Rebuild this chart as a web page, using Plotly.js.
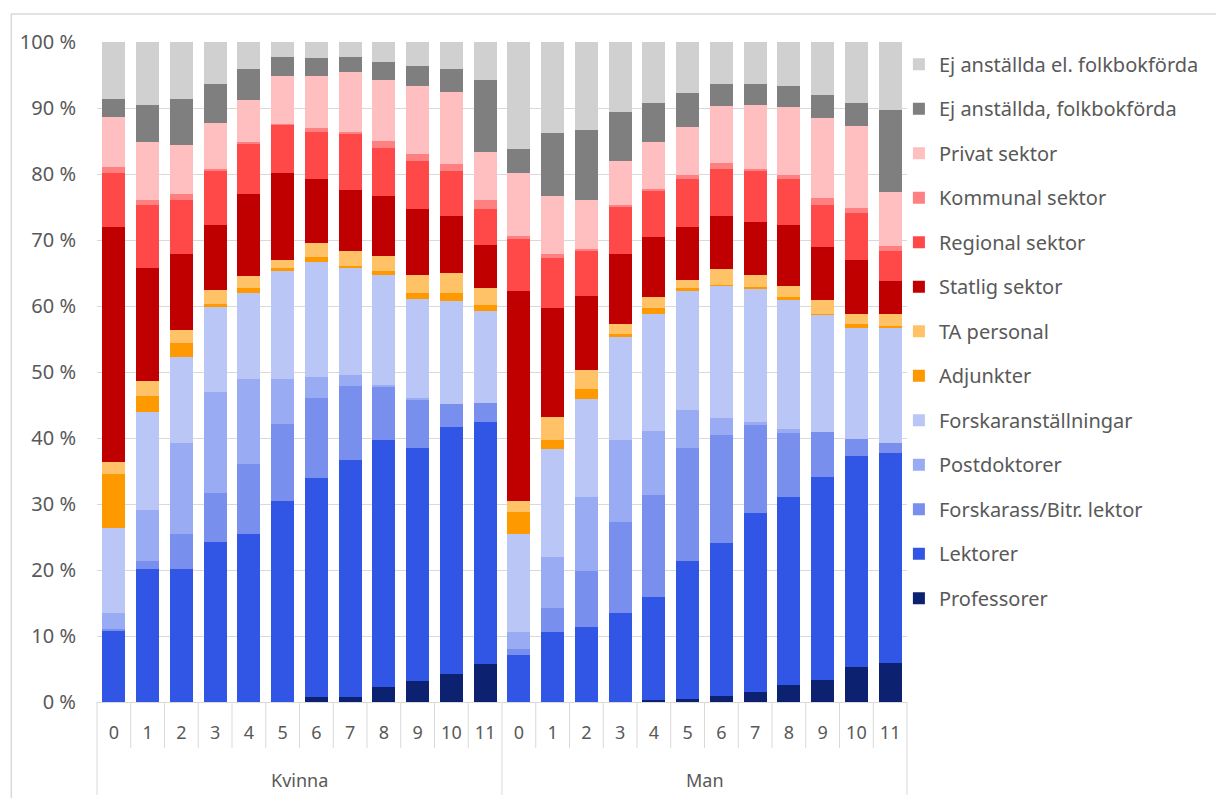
<!DOCTYPE html>
<html>
<head>
<meta charset="utf-8">
<script src="https://cdn.plot.ly/plotly-3.0.1.min.js"></script>
<style>html,body{margin:0;padding:0;background:#fff;}#chart{width:1216px;height:798px;}</style>
</head>
<body>
<div id="chart"></div>
<script>
const groupNames = ["Kvinna","Man"];
const groups = ["Kvinna","Kvinna","Kvinna","Kvinna","Kvinna","Kvinna","Kvinna","Kvinna","Kvinna","Kvinna","Kvinna","Kvinna",
                "Man","Man","Man","Man","Man","Man","Man","Man","Man","Man","Man","Man"];
const years = ["0","1","2","3","4","5","6","7","8","9","10","11","0","1","2","3","4","5","6","7","8","9","10","11"];
const yTickVals = [0,10,20,30,40,50,60,70,80,90,100];

const professorer      = [0,0,0,0,0,0,0.7,0.7,2.2,3.2,4.2,5.8, 0,0,0,0,0.3,0.5,0.9,1.5,2.6,3.4,5.3,5.9];
const lektorer         = [10.7,20.1,20.1,24.2,25.4,30.4,33.2,36.0,37.5,35.3,37.5,36.6, 7.1,10.6,11.4,13.5,15.6,20.8,23.2,27.1,28.5,30.7,31.9,31.9];
const forskarass       = [0.3,1.2,5.3,7.4,10.7,11.7,12.2,11.2,8.1,7.3,3.5,2.9, 0.9,3.7,8.5,13.8,15.5,17.2,16.4,13.3,9.6,6.8,2.7,1.4];
const postdoktorer     = [2.5,7.8,13.8,15.3,12.8,6.8,3.1,1.7,0.2,0.3,0,0, 2.6,7.6,11.1,12.4,9.6,5.7,2.5,0.5,0.6,0,0,0];
const forskaranst      = [12.8,14.9,13.1,13.0,13.1,16.4,17.5,16.2,16.7,15.0,15.5,14.0, 14.8,16.4,14.9,15.6,17.8,18.1,20.0,20.2,19.6,17.7,16.7,17.4];
const adjunkter        = [8.3,2.4,2.1,0.4,0.7,0.5,0.8,0.2,0.6,0.8,1.2,0.8, 3.4,1.4,1.5,0.5,0.9,0.4,0.2,0.3,0.4,0.2,0.6,0.4];
const taPersonal       = [1.8,2.2,1.9,2.1,1.9,1.2,2.0,2.3,2.3,2.8,3.1,2.7, 1.7,3.5,2.9,1.4,1.7,1.3,2.4,1.8,1.7,2.1,1.6,1.8];
const statlig          = [35.6,17.2,11.6,9.9,12.3,13.1,9.8,9.3,9.1,10.0,8.7,6.4, 31.8,16.5,11.2,10.7,9.0,8.0,8.1,8.0,9.2,8.0,8.2,5.0];
const regional         = [8.1,9.5,8.2,8.2,7.6,7.4,7.1,8.4,7.3,7.2,6.7,5.5, 7.8,7.6,6.8,7.1,7.1,7.2,7.1,7.7,7.0,6.4,7.1,4.5];
const kommunal         = [1.0,0.8,0.8,0.2,0.3,0.1,0.5,0.4,1.0,1.2,1.1,1.4, 0.5,0.6,0.3,0.3,0.3,0.6,0.9,0.4,0.6,1.0,0.8,0.8];
const privat           = [7.5,8.7,7.5,7.0,6.4,7.3,8.0,9.1,9.3,10.2,10.9,7.3, 9.5,8.7,7.5,6.6,7.0,7.3,8.6,9.6,10.3,12.2,12.4,8.1];
const ejFolkbokforda   = [2.7,5.7,7.0,6.0,4.7,2.9,2.7,2.3,2.7,3.1,3.5,10.9, 3.7,9.6,10.5,7.5,5.9,5.1,3.4,3.3,3.2,3.5,3.4,12.5];
const ejElFolkbokforda = [8.7,9.5,8.6,6.3,4.1,2.2,2.4,2.2,3.0,3.6,4.1,5.7, 16.2,13.8,13.4,10.6,9.3,7.8,6.3,6.3,6.7,8.0,9.3,10.3];

const seriesNames = ["Professorer","Lektorer","Forskarass/Bitr. lektor","Postdoktorer","Forskaranställningar","Adjunkter","TA personal","Statlig sektor","Regional sektor","Kommunal sektor","Privat sektor","Ej anställda, folkbokförda","Ej anställda el. folkbokförda"];
const seriesValues = [professorer,lektorer,forskarass,postdoktorer,forskaranst,adjunkter,taPersonal,statlig,regional,kommunal,privat,ejFolkbokforda,ejElFolkbokforda];
const seriesColors = ["#0c2170","#3156e5","#788fee","#99acf3","#b9c6f6","#ff9900","#ffc266","#c00000","#ff4848","#ff8080","#ffbfc0","#7f7f7f","#d0d0d0"];

// unique category keys (group + year), displayed with the year only
const catKeys = groups.map((g,i)=>g+" "+years[i]);
const nCat = catKeys.length;

const traces = seriesNames.map((n,i)=>({
  type:"bar",
  name:n,
  x:catKeys,
  y:seriesValues[i],
  marker:{color:seriesColors[i], line:{width:0}},
  legendgroup:"g"+i,
  legendrank:1000-i,
  hoverinfo:"name+y"
}));

// divider/tick lines below the axis and chart frame (decoration)
const lineCol = "#d9d9d9";
const plotH = 660, plotW = 813, mL = 97, mT = 42;
const shapes = [];
for(let k=0;k<=nCat;k++){
  const isGroupEdge = (k===0 || k===nCat || groups[k]!==groups[k-1]);
  shapes.push({type:"line", xref:"paper", yref:"paper",
    x0:k/nCat, x1:k/nCat, y0:0, y1: isGroupEdge ? -93/plotH : -46/plotH,
    line:{color:lineCol,width:1}});
}
shapes.push({type:"rect", xref:"paper", yref:"paper", layer:"below",
  x0:(11-mL)/plotW, x1:(1230-mL)/plotW, y0:-(830-mT-plotH)/plotH, y1:1+(mT-14)/plotH,
  line:{color:lineCol,width:1.5}, fillcolor:"rgba(0,0,0,0)"});

const annotations = groupNames.map(g=>{
  const idx = groups.map((v,i)=>v===g?i:-1).filter(i=>i>=0);
  const mid = (idx[0] + idx[idx.length-1] + 1)/2/nCat;
  return {xref:"paper", yref:"paper", x:mid, y:-78/plotH, yanchor:"middle", xanchor:"center",
    text:g, showarrow:false, font:{size:18,color:"#595959"}};
});

const fontFam = "Noto Sans, Open Sans, sans-serif";
const layout = {
  width:1216, height:798,
  barmode:"stack",
  bargap:0.32,
  paper_bgcolor:"#ffffff",
  plot_bgcolor:"rgba(0,0,0,0)",
  margin:{l:mL,r:306,t:mT,b:96},
  font:{family:fontFam,size:18,color:"#595959"},
  showlegend:true,
  legend:{
    x:0.99, xanchor:"left", y:0.996, yanchor:"top",
    traceorder:"grouped",
    tracegroupgap:15.5,
    bgcolor:"rgba(0,0,0,0)",
    font:{family:fontFam,size:20,color:"#595959"},
    itemwidth:30
  },
  yaxis:{
    range:[0,100],
    tickmode:"array",
    tickvals:yTickVals,
    ticktext:yTickVals.map(v=>v+" %"),
    showgrid:true, gridcolor:lineCol, gridwidth:1,
    zeroline:false, showline:false,
    ticks:"", ticklabelstandoff:20,
    tickfont:{size:20,color:"#595959"}
  },
  xaxis:{
    type:"category",
    range:[-0.5,nCat-0.5],
    tickmode:"array",
    tickvals:catKeys,
    ticktext:years,
    showgrid:false,
    showline:true, linecolor:lineCol,
    ticks:"", ticklabelstandoff:14,
    tickfont:{size:18,color:"#595959"}
  },
  shapes:shapes,
  annotations:annotations
};
Plotly.newPlot("chart",traces,layout,{displayModeBar:false,staticPlot:true});
</script>
</body>
</html>
